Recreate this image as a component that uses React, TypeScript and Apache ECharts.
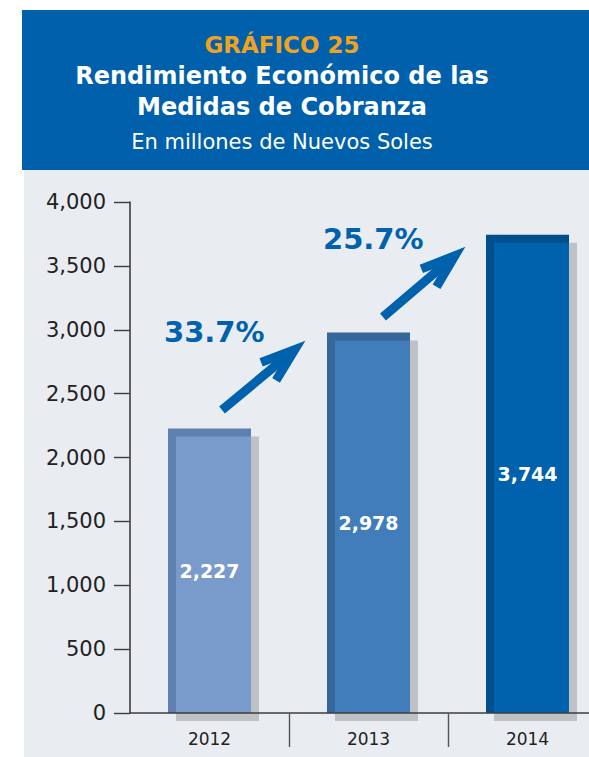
import React, { useEffect, useRef } from "react";
import * as echarts from "echarts";

const categories = ["2012", "2013", "2014"];
const values = [2227, 2978, 3744];
const growthLabels = ["33.7%", "25.7%"];
const yMin = 0;
const yMax = 4000;
const yInterval = 500;
const titleLines = [
  "GRÁFICO 25",
  "Rendimiento Económico de las",
  "Medidas de Cobranza",
  "En millones de Nuevos Soles",
];

const barFill = ["#789bcc", "#417cbb", "#0061ad"];
const barEdge = ["#5f7fae", "#35679b", "#004f8c"];
const FONT = '"DejaVu Sans", "Noto Sans", sans-serif';

const fmt = (v: number) => v.toLocaleString("en-US");

function arrow(tail: number[], tip: number[]) {
  const dx = tip[0] - tail[0];
  const dy = tip[1] - tail[1];
  const L = Math.hypot(dx, dy);
  const ux = dx / L;
  const uy = dy / L;
  const vx = tip[0] - ux * 12;
  const vy = tip[1] - uy * 12;
  const a = (19 * Math.PI) / 180;
  const len = 36;
  const bx = -ux;
  const by = -uy;
  const r = (ang: number) => [
    vx + len * (bx * Math.cos(ang) - by * Math.sin(ang)),
    vy + len * (bx * Math.sin(ang) + by * Math.cos(ang)),
  ];
  const style = {
    stroke: "#0061ad",
    lineWidth: 9,
    fill: "none",
    lineJoin: "miter" as const,
    miterLimit: 10,
  };
  return [
    {
      type: "polyline",
      z: 10,
      shape: { points: [tail, [vx - ux * 4, vy - uy * 4]] },
      style,
    },
    {
      type: "polyline",
      z: 10,
      shape: { points: [r(a), [vx, vy], r(-a)] },
      style,
    },
  ];
}

export default function App() {
  const ref = useRef<HTMLDivElement>(null);
  useEffect(() => {
    if (!ref.current) return;
    const chart = echarts.init(ref.current, undefined, { renderer: "svg" });
    const option: any = {
      animation: false,
      backgroundColor: "#ffffff",
      grid: {
        left: 130,
        top: 202,
        width: 477,
        height: 511,
        containLabel: false,
        outerBoundsMode: "none",
      },
      xAxis: {
        type: "category",
        data: categories,
        z: 5,
        axisLine: { lineStyle: { color: "#3c3c3c", width: 1.6 } },
        axisTick: {
          show: true,
          length: 34,
          interval: (i: number) => i > 0,
          lineStyle: { color: "#555555", width: 1.4 },
        },
        axisLabel: {
          fontSize: 17,
          color: "#222222",
          fontFamily: FONT,
          margin: 17,
        },
      },
      yAxis: {
        type: "value",
        min: yMin,
        max: yMax,
        interval: yInterval,
        splitLine: { show: false },
        axisLine: { show: true, lineStyle: { color: "#3c3c3c", width: 1.6 } },
        axisTick: { show: true, length: 16, lineStyle: { color: "#3c3c3c", width: 1.4 } },
        axisLabel: {
          fontSize: 21,
          color: "#222222",
          fontFamily: FONT,
          margin: 24,
          formatter: (v: number) => fmt(v),
        },
      },
      series: [
        {
          type: "custom",
          clip: false,
          z: 3,
          encode: { x: 0, y: 1 },
          data: values.map((v, i) => [i, v]),
          renderItem: (params: any, api: any) => {
            const i = api.value(0) as number;
            const v = api.value(1) as number;
            const top = api.coord([i, v]);
            const base = api.coord([i, 0]);
            const w = 83;
            const e = 8;
            const x0 = top[0] - w / 2;
            const h = base[1] - top[1];
            return {
              type: "group",
              children: [
                {
                  type: "rect",
                  shape: { x: x0 + e, y: top[1] + e, width: w, height: h },
                  style: { fill: "#bfc2c5" },
                },
                {
                  type: "rect",
                  shape: { x: x0, y: top[1], width: w, height: h },
                  style: { fill: barEdge[i] },
                },
                {
                  type: "rect",
                  shape: { x: x0 + e, y: top[1] + e, width: w - e, height: h - e },
                  style: { fill: barFill[i] },
                },
                {
                  type: "text",
                  x: top[0],
                  y: (top[1] + base[1]) / 2,
                  style: {
                    text: fmt(v),
                    fill: "#ffffff",
                    fontSize: 19,
                    fontWeight: "bold",
                    fontFamily: FONT,
                    align: "center",
                    verticalAlign: "middle",
                  },
                },
              ],
            };
          },
        },
      ],
      graphic: [
        {
          type: "rect",
          z: -10,
          shape: { x: 22, y: 10, width: 567, height: 160 },
          style: { fill: "#0060ab" },
        },
        {
          type: "rect",
          z: -10,
          shape: { x: 24, y: 170, width: 565, height: 587 },
          style: { fill: "#e9edf1" },
        },
        {
          type: "text",
          z: 10,
          x: 282,
          y: 45,
          style: {
            text: titleLines[0],
            fill: "#f0a31e",
            fontSize: 23,
            fontWeight: "bold",
            fontFamily: FONT,
            align: "center",
            verticalAlign: "middle",
          },
        },
        {
          type: "text",
          z: 10,
          x: 282,
          y: 76,
          style: {
            text: titleLines[1],
            fill: "#ffffff",
            fontSize: 24,
            fontWeight: "bold",
            fontFamily: FONT,
            align: "center",
            verticalAlign: "middle",
          },
        },
        {
          type: "text",
          z: 10,
          x: 282,
          y: 107,
          style: {
            text: titleLines[2],
            fill: "#ffffff",
            fontSize: 24,
            fontWeight: "bold",
            fontFamily: FONT,
            align: "center",
            verticalAlign: "middle",
          },
        },
        {
          type: "text",
          z: 10,
          x: 282,
          y: 142,
          style: {
            text: titleLines[3],
            fill: "#ffffff",
            fontSize: 21,
            fontFamily: FONT,
            align: "center",
            verticalAlign: "middle",
          },
        },
        {
          type: "text",
          z: 10,
          x: 164,
          y: 332,
          style: {
            text: growthLabels[0],
            fill: "#0061ad",
            fontSize: 29,
            fontWeight: "bold",
            fontFamily: FONT,
            align: "left",
            verticalAlign: "middle",
          },
        },
        {
          type: "text",
          z: 10,
          x: 323,
          y: 239,
          style: {
            text: growthLabels[1],
            fill: "#0061ad",
            fontSize: 29,
            fontWeight: "bold",
            fontFamily: FONT,
            align: "left",
            verticalAlign: "middle",
          },
        },
        ...arrow([222, 410], [304, 342]),
        ...arrow([383, 317], [464, 248]),
      ],
    };
    chart.setOption(option);
    return () => chart.dispose();
  }, []);
  return (
    <div
      ref={ref}
      style={{ position: "fixed", left: 0, top: 0, width: 589, height: 757 }}
    />
  );
}
